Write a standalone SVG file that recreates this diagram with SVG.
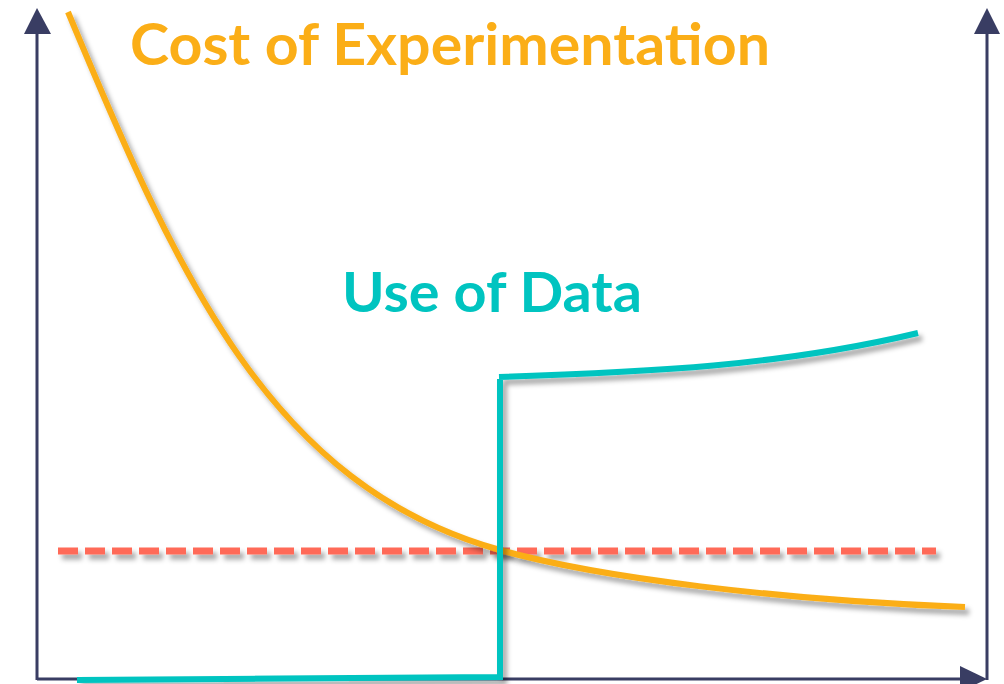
<svg xmlns="http://www.w3.org/2000/svg" width="1004" height="684" viewBox="0 0 1004 684">
  <defs>
    <filter id="shadow" filterUnits="userSpaceOnUse" x="0" y="0" width="1004" height="684">
      <feDropShadow dx="4" dy="5" stdDeviation="2.5" flood-color="#000" flood-opacity="0.35"/>
    </filter>
  </defs>
  <style>
    .axis { fill: none; stroke: #393D63; stroke-width: 3; }
    .head { fill: #393D63; }
    .cost { fill: none; stroke: #FBAE17; stroke-width: 6; stroke-linecap: butt; }
    .data { fill: none; stroke: #00C4C0; stroke-width: 6; stroke-linejoin: miter; }
    .thresh { fill: none; stroke: #FF6B58; stroke-width: 7; stroke-dasharray: 20 7; }
    .label { font-family: Lato, "Open Sans", "Liberation Sans", sans-serif; font-weight: bold; }
  </style>
  <rect width="1004" height="684" fill="#ffffff"/>

  <g id="axes">
    <path class="axis" d="M37,680 L37,30"/>
    <path class="axis" d="M37,679 L964,679"/>
    <path class="axis" d="M987,680 L987,30"/>
    <polygon class="head" points="37,8 24,34 51,34"/>
    <polygon class="head" points="987,8 974,34 1000,34"/>
    <polygon class="head" points="987,679 960,666 960,692"/>
  </g>

  <g id="connectors">
    <path id="threshold" class="thresh" filter="url(#shadow)" d="M58,551 L936,551"/>
    <path id="cost-curve" class="cost" filter="url(#shadow)" d="M68,12 C178,276 270,485.6 500,550 C600,578 780,600 965,607"/>
    <path id="data-curve" class="data" filter="url(#shadow)" d="M77,680 L500,677 L500,379 M499,377 C650,372 780,366 918,333"/>
  </g>

  <g id="labels">
    <text id="cost-label" class="label" x="130" y="65" font-size="57" fill="#FBAE17" textLength="640" lengthAdjust="spacingAndGlyphs">Cost of Experimentation</text>
    <text id="data-label" class="label" x="342" y="312" font-size="56" fill="#00C4C0" textLength="300" lengthAdjust="spacingAndGlyphs">Use of Data</text>
  </g>
</svg>
